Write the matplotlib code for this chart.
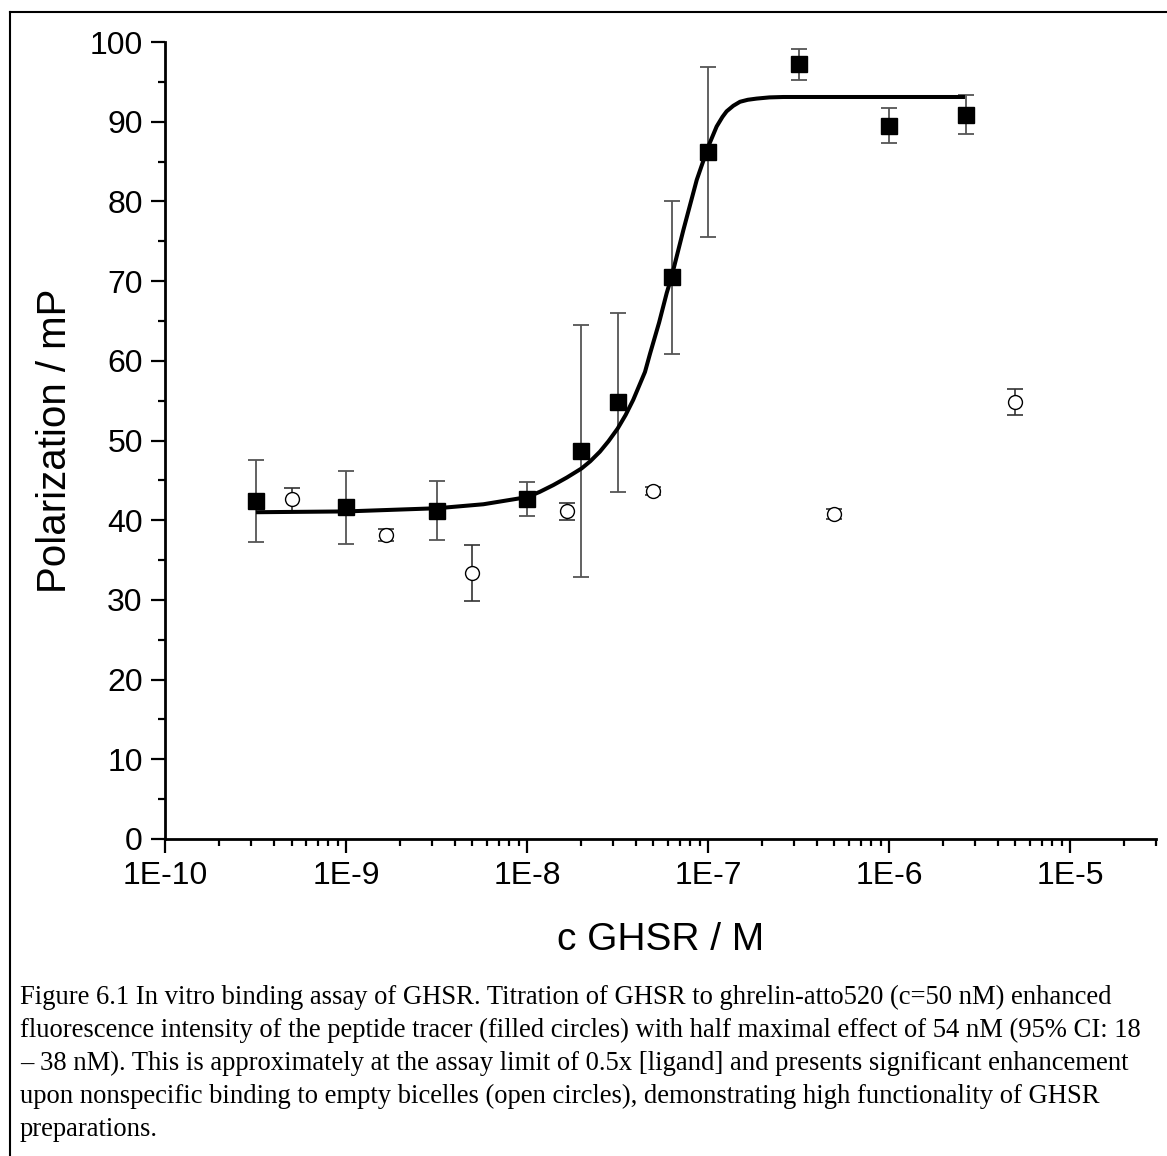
import numpy as np
import matplotlib
matplotlib.use("Agg")
import matplotlib.pyplot as plt
from matplotlib.ticker import FixedLocator, FuncFormatter, LogLocator, MultipleLocator
from matplotlib.lines import Line2D

# GHSR titration (filled squares)
ghsr_conc = [3.2e-10, 1e-9, 3.2e-9, 1e-8, 2e-8, 3.2e-8, 6.3e-8, 1e-7, 3.2e-7, 1e-6, 2.66e-6]
ghsr_pol = [42.4, 41.6, 41.2, 42.7, 48.7, 54.8, 70.5, 86.2, 97.2, 89.5, 90.9]
ghsr_err = [5.1, 4.6, 3.7, 2.15, 15.8, 11.2, 9.6, 10.65, 1.95, 2.2, 2.4]

# empty bicelles (open circles)
bic_conc = [5e-10, 1.67e-9, 5e-9, 1.67e-8, 5e-8, 5e-7, 5e-6]
bic_pol = [42.6, 38.1, 33.4, 41.1, 43.7, 40.8, 54.8]
bic_err = [1.5, 0.75, 3.5, 1.1, 0.5, 0.6, 1.6]

# fitted curve, points
fit_logc = [-9.497, -9.0, -8.497, -8.241, -7.998, -7.93, -7.855, -7.78, -7.698, -7.65,
            -7.597, -7.55, -7.499, -7.455, -7.413, -7.348, -7.320, -7.27, -7.228, -7.201,
            -7.136, -7.062, -6.998, -6.952, -6.92, -6.897, -6.86, -6.823, -6.78, -6.731,
            -6.66, -6.584, -5.580]
fit_pol = [41.0, 41.1, 41.5, 42.0, 42.9, 43.55, 44.4, 45.35, 46.5, 47.4,
           48.6, 49.9, 51.5, 53.2, 55.1, 58.6, 60.9, 64.8, 68.5, 70.55,
           76.4, 82.7, 86.9, 89.4, 90.6, 91.3, 92.0, 92.5, 92.75, 92.9,
           93.05, 93.1, 93.1]

decade_labels = ["1E-10", "1E-9", "1E-8", "1E-7", "1E-6", "1E-5"]

caption = [
    "Figure 6.1 In vitro binding assay of GHSR. Titration of GHSR to ghrelin-atto520 (c=50 nM) enhanced",
    "fluorescence intensity of the peptide tracer (filled circles) with half maximal effect of 54 nM (95% CI: 18",
    "\u2013 38 nM). This is approximately at the assay limit of 0.5x [ligand] and presents significant enhancement",
    "upon nonspecific binding to empty bicelles (open circles), demonstrating high functionality of GHSR",
    "preparations.",
]

plt.rcParams['font.family'] = ['Liberation Sans', 'DejaVu Sans']

fig = plt.figure(figsize=(11.67, 11.56), dpi=100)
ax = fig.add_axes([165 / 1167, 1 - 839 / 1156, (1156.3 - 165) / 1167, (839 - 42) / 1156])

errc = '#555555'
ax.errorbar(ghsr_conc, ghsr_pol, yerr=ghsr_err, fmt='none', ecolor=errc,
            elinewidth=1.3, capsize=6, capthick=1.3, zorder=2)
ax.errorbar(bic_conc, bic_pol, yerr=bic_err, fmt='none', ecolor='#333333',
            elinewidth=1.2, capsize=5.5, capthick=1.2, zorder=2)
ax.plot(bic_conc, bic_pol, 'o', ms=10, mfc='white', mec='black', mew=1.0, zorder=3)
ax.plot(10 ** np.array(fit_logc), fit_pol, '-', color='black', lw=2.9,
        solid_capstyle='butt', solid_joinstyle='round', zorder=4)
ax.plot(ghsr_conc, ghsr_pol, 's', ms=12, color='black', zorder=5)

ax.set_xscale('log')
ax.set_xlim(1e-10, 3e-5)
ax.set_ylim(0, 100)

ax.xaxis.set_major_locator(FixedLocator([1e-10, 1e-9, 1e-8, 1e-7, 1e-6, 1e-5]))
ax.xaxis.set_major_formatter(FuncFormatter(lambda v, p: decade_labels[int(round(np.log10(v))) + 10]))
ax.xaxis.set_minor_locator(LogLocator(base=10, subs=np.arange(2, 10), numticks=50))
ax.xaxis.set_minor_formatter(FuncFormatter(lambda v, p: ""))
ax.yaxis.set_major_locator(MultipleLocator(10))
ax.yaxis.set_minor_locator(MultipleLocator(5))

for s in ['top', 'right']:
    ax.spines[s].set_visible(False)
for s in ['left', 'bottom']:
    ax.spines[s].set_linewidth(2.0)

ax.tick_params(which='major', direction='out', length=10, width=1.6, labelsize=23, pad=6)
ax.tick_params(which='minor', direction='out', length=5, width=1.6)

ax.set_xlabel('c GHSR / M', fontsize=28, labelpad=22)
ax.set_ylabel('Polarization / mP', fontsize=29, labelpad=11)

# frame around figure + caption
fig.add_artist(Line2D([9.5 / 1167, 9.5 / 1167], [0, 1 - 12 / 1156], color='black', lw=1.5))
fig.add_artist(Line2D([9.5 / 1167, 1], [1 - 12 / 1156, 1 - 12 / 1156], color='black', lw=1.5))

for i, line in enumerate(caption):
    fig.text(20 / 1167, 1 - (997 + 33.2 * i) / 1156, line, fontsize=19.2,
             family='Liberation Serif', va='center', ha='left')

fig.savefig('out.png', dpi=100)
